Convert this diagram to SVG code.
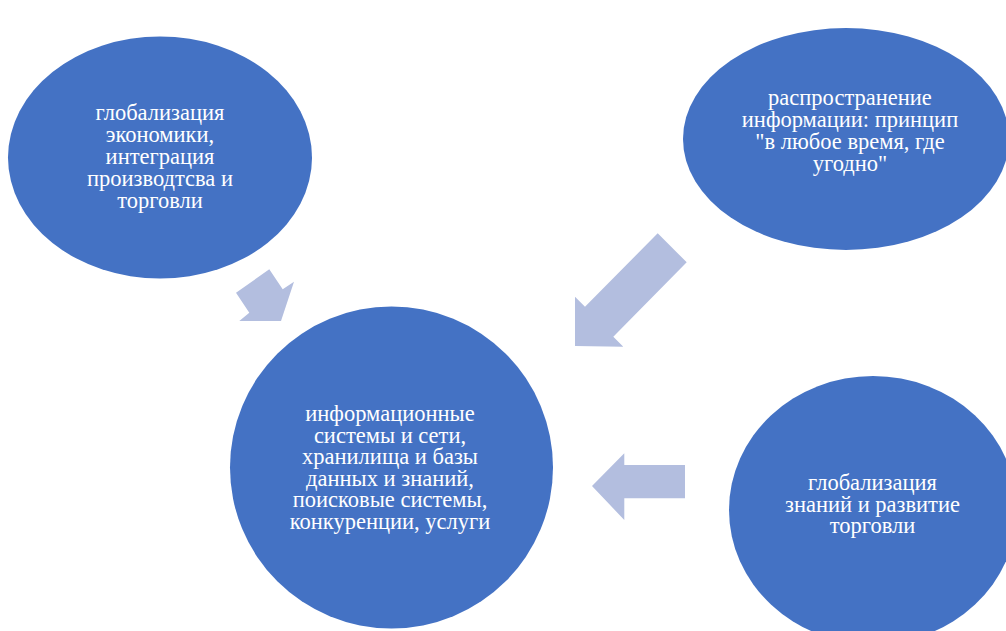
<svg xmlns="http://www.w3.org/2000/svg" width="1006" height="631" viewBox="0 0 1006 631">
<style>
.node{fill:#4472C4;}
.arr{fill:#B3BEDF;}
.t{font-family:"Liberation Serif","Times New Roman",serif;font-size:22.5px;fill:#FFFFFF;text-anchor:middle;}
</style>
<rect width="1006" height="631" fill="#FFFFFF"/>
<g id="connectors">
<polygon class="arr" points="269.3,269.3 282.7,289.3 294,281.7 281,321 239.3,321 249.3,312.7 236,292.7"/>
<polygon class="arr" points="657.7,233.3 686.7,262.3 613.3,336.7 623.3,346.7 575,346 575,296.7 585,306.7"/>
<polygon class="arr" points="685,465 685,498.3 624.3,498.3 624.3,520 592,486 624.3,453.3 624.3,465"/>
</g>
<g id="node-globalization-economy">
<ellipse class="node" cx="160" cy="157.5" rx="152" ry="121"/>
<text class="t"><tspan x="160" y="120">глобализация</tspan><tspan x="160" y="142">экономики,</tspan><tspan x="160" y="164">интеграция</tspan><tspan x="160" y="186">производтсва и</tspan><tspan x="160" y="208">торговли</tspan></text>
</g>
<g id="node-information-spread">
<ellipse class="node" cx="846" cy="139" rx="163" ry="111"/>
<text class="t"><tspan x="850" y="105">распространение</tspan><tspan x="850" y="127">информации: принцип</tspan><tspan x="850" y="149">"в любое время, где</tspan><tspan x="850" y="171">угодно"</tspan></text>
</g>
<g id="node-information-systems">
<ellipse class="node" cx="391.5" cy="467.5" rx="161.5" ry="161"/>
<text class="t"><tspan x="390" y="421">информационные</tspan><tspan x="390" y="442.5">системы и сети,</tspan><tspan x="390" y="464">хранилища и базы</tspan><tspan x="390" y="485.5">данных и знаний,</tspan><tspan x="390" y="507">поисковые системы,</tspan><tspan x="390" y="528.5">конкуренции, услуги</tspan></text>
</g>
<g id="node-knowledge-globalization">
<ellipse class="node" cx="873" cy="510" rx="144" ry="134"/>
<text class="t"><tspan x="872.5" y="490">глобализация</tspan><tspan x="872.5" y="511.5">знаний и развитие</tspan><tspan x="872.5" y="533">торговли</tspan></text>
</g>
</svg>
